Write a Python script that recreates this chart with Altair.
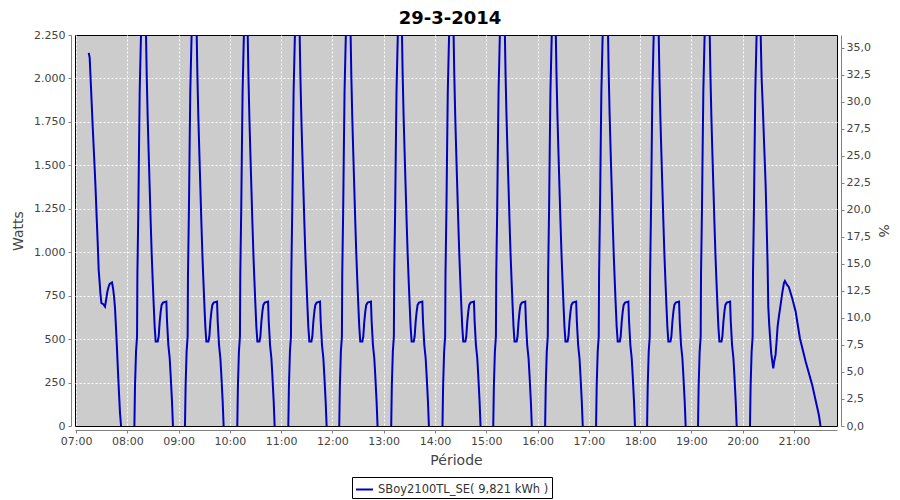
import altair as alt
import pandas as pd

title_text = "29-3-2014"
series_name = "SBoy2100TL_SE( 9,821 kWh )"
line_color = "#0000c0"

# ---- data: minutes past the hour / watts per cycle ----
h07_min = [14.9, 16.0, 17.2, 18.4, 19.5, 20.7, 21.9, 23.0, 24.2, 25.4, 26.5, 27.7, 28.5, 29.7,
           32.0, 33.9, 35.5, 36.7, 38.2, 39.4, 42.1, 43.3, 44.5, 45.6, 46.8, 48.0, 49.1, 50.3,
           51.5, 52.7]
h07_w = [2147, 2118, 1984, 1849, 1724, 1600, 1475, 1350, 1196, 1052, 899, 822, 764, 707,
         701, 687, 735, 774, 803, 818, 826, 793, 745, 678, 563, 438, 313, 188, 73, 0]

# watts of a full hourly cycle (08:00 .. 19:00 all look alike)
cycle_w = [0, 227, 428, 515, 870, 1244, 1600, 1926, 2185, 2300,
           2900,
           2280, 2021, 1782, 1571, 1369, 1167, 995, 841, 697, 572, 486, 486, 515, 601, 659,
           697, 710, 716, 601, 467, 390, 294, 140, 0]

h08_min = [8.3, 9.0, 10.2, 11.4, 11.8, 12.9, 13.7, 14.5, 15.7, 16.3, 19.0,
           21.8, 22.7, 23.8, 25.0, 26.2, 27.4, 28.5, 29.7, 30.9, 32.0, 33.2, 35.6, 36.7, 37.9,
           39.1, 40.2, 41.8, 45.7, 46.5, 48.0, 49.6, 50.7, 52.3, 53.4]
h09_min = [7.5, 8.2, 9.4, 10.6, 11.0, 12.1, 12.9, 13.7, 14.9, 15.5, 18.6,
           21.1, 22.0, 23.1, 24.3, 25.5, 26.7, 27.8, 29.0, 30.2, 31.3, 32.5, 34.9, 36.0, 37.2,
           38.4, 39.5, 41.1, 45.0, 45.8, 47.3, 48.9, 50.0, 51.6, 52.7]
h10_min = [8.7, 9.4, 10.6, 11.8, 12.2, 13.3, 14.1, 14.9, 16.1, 16.7, 19.0,
           20.8, 21.7, 22.8, 24.0, 25.2, 26.4, 27.5, 28.7, 29.9, 31.0, 32.2, 34.6, 35.7, 36.9,
           38.1, 39.2, 40.8, 44.7, 45.5, 47.0, 48.6, 49.7, 51.3, 52.4]
h11_min = [8.4, 9.1, 10.3, 11.5, 11.9, 13.0, 13.8, 14.6, 15.8, 16.4, 19.0,
           21.6, 22.5, 23.6, 24.8, 26.0, 27.2, 28.3, 29.5, 30.7, 31.8, 33.0, 35.4, 36.5, 37.7,
           38.9, 40.0, 41.6, 45.5, 46.3, 47.8, 49.4, 50.5, 52.1, 53.2]
h12_min = [8.0, 8.7, 9.9, 11.1, 11.5, 12.6, 13.4, 14.2, 15.4, 16.0, 18.8,
           21.2, 22.1, 23.2, 24.4, 25.6, 26.8, 27.9, 29.1, 30.3, 31.4, 32.6, 35.0, 36.1, 37.3,
           38.5, 39.6, 41.2, 45.1, 45.9, 47.4, 49.0, 50.1, 51.7, 52.8]
h13_min = [8.8, 9.5, 10.7, 11.9, 12.3, 13.4, 14.2, 15.0, 16.2, 16.8, 19.2,
           21.3, 22.2, 23.3, 24.5, 25.7, 26.9, 28.0, 29.2, 30.4, 31.5, 32.7, 35.1, 36.2, 37.4,
           38.6, 39.7, 41.3, 45.2, 46.0, 47.5, 49.1, 50.2, 51.8, 52.9]
h14_min = [8.8, 9.5, 10.7, 11.9, 12.3, 13.4, 14.2, 15.0, 16.2, 16.8, 19.3,
           21.7, 22.6, 23.7, 24.9, 26.1, 27.3, 28.4, 29.6, 30.8, 31.9, 33.1, 35.5, 36.6, 37.8,
           39.0, 40.1, 41.7, 45.6, 46.4, 47.9, 49.5, 50.6, 52.2, 53.3]
h15_min = [8.2, 8.9, 10.1, 11.3, 11.7, 12.8, 13.6, 14.4, 15.6, 16.2, 19.0,
           21.7, 22.6, 23.7, 24.9, 26.1, 27.3, 28.4, 29.6, 30.8, 31.9, 33.1, 35.5, 36.6, 37.8,
           39.0, 40.1, 41.7, 45.6, 46.4, 47.9, 49.5, 50.6, 52.2, 53.3]
h16_min = [8.9, 9.6, 10.8, 12.0, 12.4, 13.5, 14.3, 15.1, 16.3, 16.9, 19.2,
           21.3, 22.2, 23.3, 24.5, 25.7, 26.9, 28.0, 29.2, 30.4, 31.5, 32.7, 35.1, 36.2, 37.4,
           38.6, 39.7, 41.3, 45.2, 46.0, 47.5, 49.1, 50.2, 51.8, 52.9]
h17_min = [8.5, 9.2, 10.4, 11.6, 12.0, 13.1, 13.9, 14.7, 15.9, 16.5, 19.5,
           22.4, 23.3, 24.4, 25.6, 26.8, 28.0, 29.1, 30.3, 31.5, 32.6, 33.8, 36.2, 37.3, 38.5,
           39.7, 40.8, 42.4, 46.3, 47.1, 48.6, 50.2, 51.3, 52.9, 54.0]
h18_min = [8.2, 8.9, 10.1, 11.3, 11.7, 12.8, 13.6, 14.4, 15.6, 16.2, 19.0,
           21.7, 22.6, 23.7, 24.9, 26.1, 27.3, 28.4, 29.6, 30.8, 31.9, 33.1, 35.5, 36.6, 37.8,
           39.0, 40.1, 41.7, 45.6, 46.4, 47.9, 49.5, 50.6, 52.2, 53.3]
h19_min = [7.8, 8.5, 9.7, 10.9, 11.3, 12.4, 13.2, 14.0, 15.2, 15.8, 18.7,
           21.4, 22.3, 23.4, 24.6, 25.8, 27.0, 28.1, 29.3, 30.5, 31.6, 32.8, 35.2, 36.3, 37.5,
           38.7, 39.8, 41.4, 45.3, 46.1, 47.6, 49.2, 50.3, 51.9, 53.0]

h20_min = [8.6, 9.3, 10.5, 11.7, 12.1, 13.2, 14.0, 14.8, 16.0, 16.6, 18.8,
           21.0, 22.2, 23.7, 25.3, 26.9, 28.0, 29.2, 30.0, 31.1, 33.4, 35.8, 36.9, 38.5, 39.7,
           40.9, 42.4, 44.4, 46.3, 48.3, 49.5, 52.0, 54.0, 58.0, 62.0, 67.0, 73.7, 81.4, 89.2,
           91.1]
h20_w = [0, 227, 428, 515, 870, 1244, 1600, 1926, 2185, 2300, 2900,
         2280, 2003, 1820, 1600, 1388, 1177, 927, 687, 582, 419, 332, 371, 409, 486,
         572, 630, 697, 764, 822, 835, 812, 800, 735, 659, 505, 371, 236, 63,
         0]

pct_ticks = [0, 2.5, 5, 7.5, 10, 12.5, 15, 17.5, 20, 22.5, 25, 27.5, 30, 32.5, 35]
watt_ticks = [0, 250, 500, 750, 1000, 1250, 1500, 1750, 2000, 2250]
hour_ticks = [7, 8, 9, 10, 11, 12, 13, 14, 15, 16, 17, 18, 19, 20, 21]

cycles = [
    (7, h07_min, h07_w), (8, h08_min, cycle_w), (9, h09_min, cycle_w),
    (10, h10_min, cycle_w), (11, h11_min, cycle_w), (12, h12_min, cycle_w),
    (13, h13_min, cycle_w), (14, h14_min, cycle_w), (15, h15_min, cycle_w),
    (16, h16_min, cycle_w), (17, h17_min, cycle_w), (18, h18_min, cycle_w),
    (19, h19_min, cycle_w), (20, h20_min, h20_w),
]
rows = []
for hour, mins, ws in cycles:
    for m, w in zip(mins, ws):
        rows.append({"t": hour * 60 + m, "w": w, "cycle": hour, "series": series_name})
df = pd.DataFrame(rows)
pct_df = pd.DataFrame({"p": [0, 36.2]})

FONT = "DejaVu Sans"

line = alt.Chart(df).mark_line(strokeWidth=2, clip=True).encode(
    x=alt.X("t:Q",
            scale=alt.Scale(domain=[418.8, 1310.4], nice=False, zero=False),
            axis=alt.Axis(values=[h * 60 for h in hour_ticks],
                          labelExpr="(floor(datum.value/60) < 10 ? '0' : '') + floor(datum.value/60) + ':00'",
                          title="Période", offset=4, grid=True, labelPadding=2,
                          titlePadding=7)),
    y=alt.Y("w:Q",
            scale=alt.Scale(domain=[0, 2250], nice=False),
            axis=alt.Axis(values=watt_ticks, orient="left",
                          labelExpr="replace(format(datum.value, ','), ',', '.')",
                          title="Watts", offset=4, grid=True, labelPadding=3,
                          titlePadding=8,
                          gridOpacity={"condition": {"test": "datum.value == 2250 || datum.value == 0",
                                                     "value": 0},
                                       "value": 1})),
    color=alt.Color("series:N",
                    scale=alt.Scale(domain=[series_name], range=[line_color]),
                    legend=alt.Legend(title=None, orient="none", legendX=277, legendY=442,
                                      symbolType="stroke", symbolSize=289,
                                      symbolStrokeWidth=2, strokeColor="black",
                                      fillColor="white", padding=3, labelOffset=4,
                                      labelLimit=0,
                                      labelFont=FONT, labelFontSize=11.5,
                                      labelColor="#333333")),
    detail="cycle:N",
)

right = alt.Chart(pct_df).mark_point(opacity=0).encode(
    y=alt.Y("p:Q",
            scale=alt.Scale(domain=[0, 36.2], nice=False),
            axis=alt.Axis(values=pct_ticks, orient="right", grid=False,
                          labelExpr="replace(format(datum.value, '.1f'), '.', ',')",
                          title="%", offset=4, labelPadding=2, titlePadding=5)),
)

chart = alt.layer(line, right).resolve_scale(y="independent").properties(
    width=762, height=391,
    title=alt.TitleParams(text=title_text, font=FONT, fontSize=18, fontWeight="bold",
                          color="black", anchor="middle", offset=1, dx=-6),
    padding={"left": 67, "top": 27, "right": 55, "bottom": 74},
    autosize=alt.AutoSizeParams(type="none"),
    background="white",
).configure_view(
    fill="#cccccc", stroke="black", strokeWidth=1,
).configure_axis(
    labelFont=FONT, labelFontSize=11, labelColor="#444444",
    titleFont=FONT, titleFontSize=14, titleColor="#444444", titleFontWeight="normal",
    domainColor="#808080", tickColor="#808080", tickSize=3,
    gridColor="white", gridDash=[2, 2], gridWidth=1,
)

chart.save("out.html", embed_options={"renderer": "svg", "actions": False})
